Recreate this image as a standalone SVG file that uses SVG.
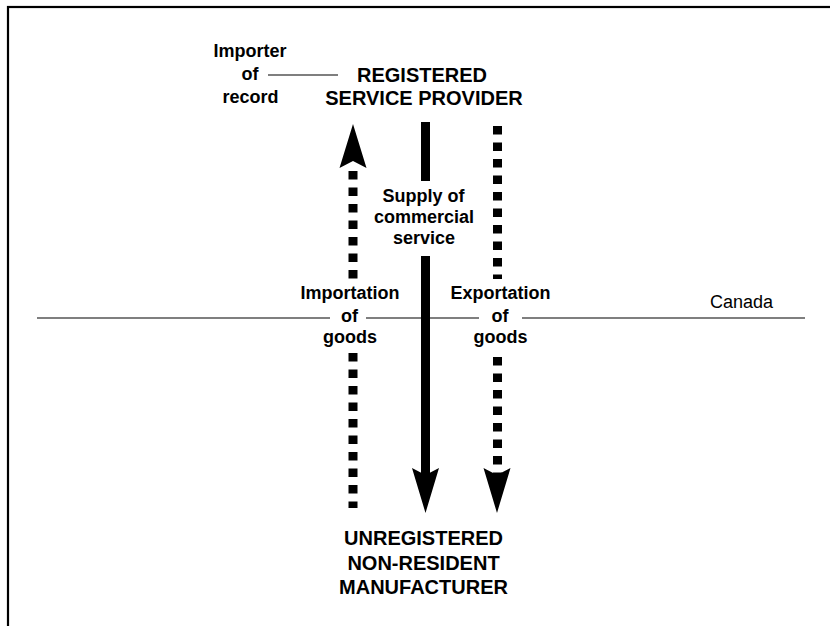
<svg xmlns="http://www.w3.org/2000/svg" width="830" height="626" viewBox="0 0 830 626">
<style>
  .t { font-family: "Liberation Sans", Arial, sans-serif; fill: #000; text-anchor: middle; }
  .lbl { font-size: 18px; font-weight: bold; }
  .big { font-size: 20px; font-weight: bold; }
  .reg { font-size: 18px; }
  .dot { stroke: #000; stroke-width: 9; stroke-dasharray: 8.5 8; fill: none; }
  .solid { stroke: #000; stroke-width: 9; fill: none; }
  .thin { stroke: #555; stroke-width: 1.3; fill: none; }
  .head { fill: #000; }
</style>
<rect width="830" height="626" fill="#fff"/>
<rect x="8" y="7" width="860" height="660" fill="none" stroke="#000" stroke-width="2.2"/>

<g id="canada-line">
  <line class="thin" x1="37" y1="318" x2="330" y2="318"/>
  <line class="thin" x1="366" y1="318" x2="479" y2="318"/>
  <line class="thin" x1="522" y1="318" x2="805" y2="318"/>
  <text class="t reg" x="741.5" y="308">Canada</text>
</g>

<g id="connectors">
  <!-- importation (up, dotted) -->
  <line class="dot" x1="353" y1="171" x2="353" y2="280"/>
  <line class="dot" x1="353" y1="353" x2="353" y2="508"/>
  <path class="head" d="M353,124 L366.5,168 L353,161 L339.5,168 Z"/>
  <!-- supply of commercial service (down, solid) -->
  <line class="solid" x1="425.5" y1="122" x2="425.5" y2="181"/>
  <line class="solid" x1="425.5" y1="256" x2="425.5" y2="480"/>
  <path class="head" d="M425.5,513 L412,468 L425.5,475 L439,468 Z"/>
  <!-- exportation (down, dotted) -->
  <line class="dot" x1="497.5" y1="126" x2="497.5" y2="279"/>
  <line class="dot" x1="497.5" y1="357" x2="497.5" y2="480"/>
  <path class="head" d="M497,513 L483.5,468 L497,475 L510.5,468 Z"/>
  <!-- importer of record pointer -->
  <line class="thin" x1="268" y1="75" x2="338" y2="75"/>
</g>

<g id="registered-service-provider">
  <text class="t big" x="422" y="82">REGISTERED</text>
  <text class="t big" x="424" y="105">SERVICE PROVIDER</text>
</g>

<g id="importer-of-record">
  <text class="t lbl" x="250" y="57">Importer</text>
  <text class="t lbl" x="250" y="80">of</text>
  <text class="t lbl" x="250.5" y="103">record</text>
</g>

<g id="supply-label">
  <text class="t lbl" x="423.5" y="202">Supply of</text>
  <text class="t lbl" x="424" y="223">commercial</text>
  <text class="t lbl" x="424" y="244">service</text>
</g>

<g id="importation-label">
  <text class="t lbl" x="350" y="299">Importation</text>
  <text class="t lbl" x="349.5" y="322">of</text>
  <text class="t lbl" x="350" y="343">goods</text>
</g>

<g id="exportation-label">
  <text class="t lbl" x="500.5" y="299">Exportation</text>
  <text class="t lbl" x="500" y="322">of</text>
  <text class="t lbl" x="500.5" y="343">goods</text>
</g>

<g id="unregistered-non-resident-manufacturer">
  <text class="t big" x="423.5" y="545">UNREGISTERED</text>
  <text class="t big" x="423.5" y="570">NON-RESIDENT</text>
  <text class="t big" x="423.5" y="594">MANUFACTURER</text>
</g>
</svg>
